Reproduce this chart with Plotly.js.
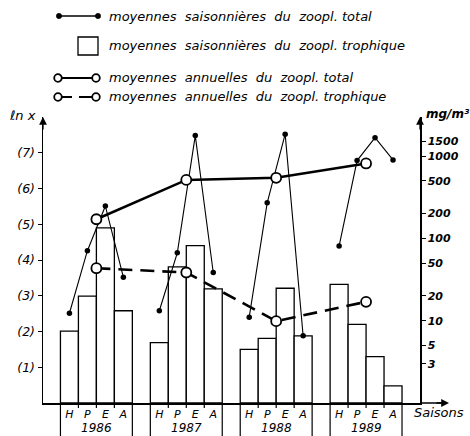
<!DOCTYPE html>
<html><head><meta charset="utf-8">
<script src="https://cdn.plot.ly/plotly-3.0.1.min.js"></script>
<style>html,body{margin:0;padding:0;background:#fff}#c{width:470px;height:436px}</style>
</head><body><div id="c"></div>
<script>
// ---- data (values in ln x units) ----
const years = ['1986', '1987', '1988', '1989'];
const seasons = ['H', 'P', 'E', 'A'];
const seasonalTrophic = [2.01, 2.99, 4.90, 2.58, 1.69, 3.81, 4.40, 3.19, 1.50, 1.81, 3.21, 1.88, 3.32, 2.20, 1.30, 0.48];
const seasonalTotal = [2.51, 4.26, 5.51, 3.52, 2.58, 4.20, 7.48, 3.65, 2.40, 5.60, 7.52, 1.88, 4.39, 6.78, 7.42, 6.80];
const annualTotal = [5.14, 6.24, 6.30, 6.70];
const annualTrophic = [3.77, 3.65, 2.29, 2.83];
const leftTicks = [1, 2, 3, 4, 5, 6, 7];
const rightTicks = [3, 5, 10, 20, 50, 100, 200, 500, 1000, 1500];
const legendLabels = [
  'moyennes  saisonnières  du  zoopl. total',
  'moyennes  saisonnières  du  zoopl. trophique',
  'moyennes  annuelles  du  zoopl. total',
  'moyennes  annuelles  du  zoopl. trophique'
];

// ---- layout geometry ----
const M = {l: 43, r: 50, t: 117, b: 33};
const FW = 470, FH = 436;
const PW = FW - M.l - M.r, PH = FH - M.t - M.b;
const px = X => (X - M.l) / PW;
const py = Y => (FH - M.b - Y) / PH;
const FONT = {family: 'DejaVu Sans', color: '#000', style: 'italic'};
const GAP = 5; // slots per year group (4 seasons + 1 gap)

// slot positions derived from categories
const slotX = [];
const slotText = [];
years.forEach((y, yi) => seasons.forEach((s, si) => { slotX.push(yi * GAP + si); slotText.push(s); }));
const yearCenter = years.map((y, yi) => yi * GAP + (seasons.length - 1) / 2);

// seasonal total split per year
const stX = [], stY = [];
years.forEach((y, yi) => {
  seasons.forEach((s, si) => { stX.push(yi * GAP + si); stY.push(seasonalTotal[yi * seasons.length + si]); });
  stX.push(null); stY.push(null);
});

const traces = [
  {type: 'bar', x: slotX, y: seasonalTrophic, width: 1, yaxis: 'y',
   marker: {color: '#fff', line: {color: '#000', width: 1.3}}, showlegend: false, hoverinfo: 'skip'},
  {type: 'scatter', mode: 'lines+markers', x: stX, y: stY, connectgaps: false,
   line: {color: '#000', width: 1.1}, marker: {color: '#000', size: 5.5}, showlegend: false},
  {type: 'scatter', mode: 'lines+markers', x: yearCenter, y: annualTotal,
   line: {color: '#000', width: 2.6}, marker: {color: '#fff', size: 10, line: {color: '#000', width: 1.8}}, showlegend: false},
  {type: 'scatter', mode: 'lines+markers', x: yearCenter, y: annualTrophic,
   line: {color: '#000', width: 2.6, dash: '14px,8px'}, marker: {color: '#fff', size: 10, line: {color: '#000', width: 1.8}}, showlegend: false},
  // invisible trace to activate right axis
  {type: 'scatter', mode: 'markers', x: [slotX[0]], y: [0], yaxis: 'y2', marker: {opacity: 0}, showlegend: false, hoverinfo: 'skip'}
];

const shapes = [];
const annotations = [];

// group boundary lines below the axis
years.forEach((y, yi) => {
  for (let k = 0; k <= seasons.length; k++) {
    const xb = yi * GAP + k - 0.5;
    const outer = (k === 0 || k === seasons.length);
    shapes.push({type: 'line', xref: 'x', yref: 'paper', x0: xb, x1: xb, y0: 0, y1: outer ? py(FH) : py(408),
      line: {color: '#000', width: 1.2}});
  }
  annotations.push({xref: 'x', yref: 'paper', x: yearCenter[yi], y: py(428), text: y, showarrow: false,
    font: Object.assign({}, FONT, {size: 12}), xanchor: 'center', yanchor: 'middle'});
});

// x axis extension + arrow
shapes.push({type: 'line', xref: 'paper', yref: 'paper', x0: 1, x1: px(446), y0: 0, y1: 0, line: {color: '#000', width: 1.5}});
annotations.push({xref: 'paper', yref: 'paper', x: px(449), y: 0, ax: -14, ay: 0, text: '', showarrow: true,
  arrowhead: 2, arrowsize: 1.2, arrowwidth: 1.3, arrowcolor: '#000'});
annotations.push({xref: 'paper', yref: 'paper', x: 0, y: 1, ax: 0, ay: 14, text: '', showarrow: true,
  arrowhead: 2, arrowsize: 1.2, arrowwidth: 1.3, arrowcolor: '#000'});
annotations.push({xref: 'paper', yref: 'paper', x: 1, y: 1, ax: 0, ay: 14, text: '', showarrow: true,
  arrowhead: 2, arrowsize: 1.2, arrowwidth: 1.3, arrowcolor: '#000'});

// axis titles
annotations.push({xref: 'paper', yref: 'paper', x: px(22), y: py(116), text: 'ℓn x', showarrow: false,
  font: Object.assign({}, FONT, {size: 13}), xanchor: 'center', yanchor: 'middle'});
annotations.push({xref: 'paper', yref: 'paper', x: px(424), y: py(114), text: 'mg/m³', showarrow: false,
  font: Object.assign({}, FONT, {size: 12, weight: 'bold'}), xanchor: 'left', yanchor: 'middle'});
annotations.push({xref: 'paper', yref: 'paper', x: px(412), y: py(412), text: 'Saisons', showarrow: false,
  font: Object.assign({}, FONT, {size: 13}), xanchor: 'left', yanchor: 'middle'});

// manual legend
const rowsY = [16, 46, 78, 97];
const r = 3.8;
function dot(X, Y, rad, fill) {
  shapes.push({type: 'circle', xref: 'paper', yref: 'paper', x0: px(X - rad), x1: px(X + rad), y0: py(Y + rad), y1: py(Y - rad),
    fillcolor: fill, line: {color: '#000', width: fill === '#000' ? 0.5 : 1.8}});
}
shapes.push({type: 'line', xref: 'paper', yref: 'paper', x0: px(59), x1: px(98), y0: py(rowsY[0]), y1: py(rowsY[0]), line: {color: '#000', width: 1.4}});
dot(59, rowsY[0], 2.7, '#000'); dot(98, rowsY[0], 2.7, '#000');
shapes.push({type: 'rect', xref: 'paper', yref: 'paper', x0: px(78), x1: px(98), y0: py(55), y1: py(37), line: {color: '#000', width: 1.3}, fillcolor: '#fff'});
shapes.push({type: 'line', xref: 'paper', yref: 'paper', x0: px(61), x1: px(93), y0: py(rowsY[2]), y1: py(rowsY[2]), line: {color: '#000', width: 2}});
dot(58, rowsY[2], r, '#fff'); dot(96, rowsY[2], r, '#fff');
shapes.push({type: 'line', xref: 'paper', yref: 'paper', x0: px(61), x1: px(72), y0: py(rowsY[3]), y1: py(rowsY[3]), line: {color: '#000', width: 2}});
shapes.push({type: 'line', xref: 'paper', yref: 'paper', x0: px(79), x1: px(93), y0: py(rowsY[3]), y1: py(rowsY[3]), line: {color: '#000', width: 2}});
dot(58, rowsY[3], r, '#fff'); dot(96, rowsY[3], r, '#fff');
legendLabels.forEach((t, i) => annotations.push({xref: 'paper', yref: 'paper', x: px(107), y: py(rowsY[i]), text: t,
  showarrow: false, xanchor: 'left', yanchor: 'middle', font: Object.assign({}, FONT, {size: 13})}));

const layout = {
  width: FW, height: FH, margin: M, paper_bgcolor: '#fff', plot_bgcolor: '#fff',
  showlegend: false, bargap: 0, font: FONT,
  xaxis: {range: [-1.47, 19.5], showgrid: false, zeroline: false, showline: true, linecolor: '#000', linewidth: 1.5,
    tickmode: 'array', tickvals: slotX, ticktext: slotText, ticks: '', tickfont: Object.assign({}, FONT, {size: 11})},
  yaxis: {range: [0, 8], showgrid: false, zeroline: false, showline: true, linecolor: '#000', linewidth: 1.5,
    tickmode: 'array', tickvals: leftTicks, ticktext: leftTicks.map(v => '(' + v + ')'), ticks: 'outside', ticklen: 4,
    tickcolor: '#000', tickfont: Object.assign({}, FONT, {size: 12.5})},
  yaxis2: {range: [0, 8], overlaying: 'y', side: 'right', showgrid: false, zeroline: false, showline: true, linecolor: '#000', linewidth: 1.5,
    tickmode: 'array', tickvals: rightTicks.map(v => Math.log(v)), ticktext: rightTicks.map(String), ticks: 'outside', ticklen: 4,
    tickcolor: '#000', tickfont: Object.assign({}, FONT, {size: 11, weight: 'bold'})},
  shapes: shapes, annotations: annotations
};
Plotly.newPlot('c', traces, layout, {displayModeBar: false, staticPlot: true});
</script></body></html>
